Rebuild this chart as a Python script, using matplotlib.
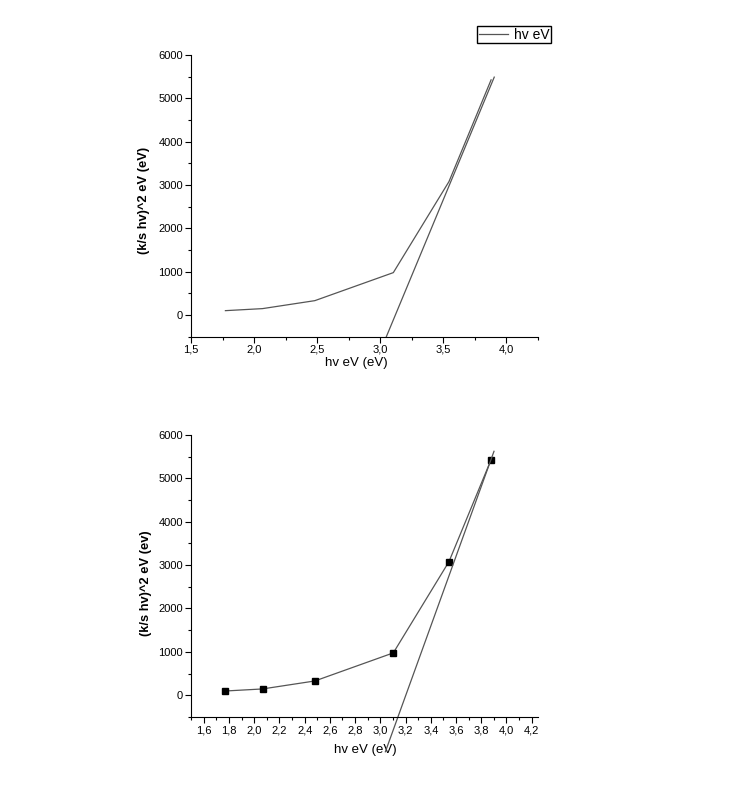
import matplotlib
matplotlib.use("Agg")
import matplotlib.pyplot as plt
from matplotlib.ticker import MultipleLocator, FuncFormatter

plt.rcParams['font.family'] = ['Liberation Sans', 'DejaVu Sans']

# photon energy (eV) and (k/s hv)^2
hv = [1.772, 2.066, 2.481, 3.103, 3.544, 3.878]
ksq = [99, 146, 330, 977, 3078, 5427]

# tangent lines drawn on each panel (end points)
fit_top_x = [3.048, 3.903]
fit_top_y = [-500, 5490]
fit_bot_x = [3.040, 3.901]
fit_bot_y = [-1300, 5620]

line_col = '#555555'


def comma(v, pos):
    return ('%.1f' % v).replace('.', ',')


def style_axes(ax, xmajor, xminor):
    for s in ['top', 'right']:
        ax.spines[s].set_visible(False)
    ax.set_ylim(-500, 6000)
    ax.set_xlim(1.5, 4.25)
    ax.yaxis.set_major_locator(MultipleLocator(1000))
    ax.yaxis.set_minor_locator(MultipleLocator(500))
    ax.xaxis.set_major_locator(MultipleLocator(xmajor))
    ax.xaxis.set_minor_locator(MultipleLocator(xminor))
    ax.xaxis.set_major_formatter(FuncFormatter(comma))
    ax.tick_params(which='major', direction='out', length=4, width=0.8,
                   labelsize=8, pad=2)
    ax.tick_params(which='minor', direction='out', length=2.5, width=0.8)


fig = plt.figure(figsize=(7.35, 7.92), dpi=100)

ax1 = fig.add_axes([0.260, 0.575, 0.472, 0.3555])
ax1.plot(hv, ksq, color=line_col, lw=0.9, label='hv eV')
ax1.plot(fit_top_x, fit_top_y, color=line_col, lw=0.9)
style_axes(ax1, 0.5, 0.25)
ax1.set_xlabel('hv eV (eV)', fontsize=9.5)
ax1.set_ylabel('(k/s hv)^2 eV (eV)', fontsize=9.3, fontweight='bold')
ax1.xaxis.set_label_coords(0.477, -0.072)
ax1.yaxis.set_label_coords(-0.118, 0.482)
fig.legend(loc='upper right', bbox_to_anchor=(0.749, 0.967), fontsize=10,
           frameon=True, fancybox=False, edgecolor='black', framealpha=1,
           handlelength=2.1, handletextpad=0.4, borderpad=0.1,
           borderaxespad=0)

ax2 = fig.add_axes([0.260, 0.0947, 0.472, 0.3563])
ax2.plot(hv, ksq, color=line_col, lw=0.9, marker='s', markersize=5,
         markerfacecolor='black', markeredgecolor='black')
ax2.plot(fit_bot_x, fit_bot_y, color=line_col, lw=0.9, clip_on=False)
style_axes(ax2, 0.2, 0.1)
ax2.set_xlabel('hv eV (eV)', fontsize=9.5)
ax2.set_ylabel('(k/s hv)^2 eV (ev)', fontsize=9.3, fontweight='bold')
ax2.xaxis.set_label_coords(0.501, -0.096)
ax2.yaxis.set_label_coords(-0.113, 0.475)

fig.savefig('out.png', dpi=100)
